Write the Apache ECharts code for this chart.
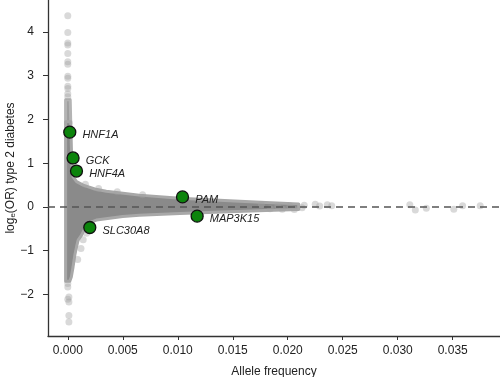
<!DOCTYPE html>
<html>
<head>
<meta charset="utf-8">
<script src="https://cdn.jsdelivr.net/npm/echarts@6/dist/echarts.min.js"></script>
<style>
  html, body { margin: 0; padding: 0; background: #fff; }
  #main { width: 500px; height: 377px; }
</style>
</head>
<body>
<div id="main"></div>
<script>
// tick positions
var xTicks = [0, 0.005, 0.01, 0.015, 0.02, 0.025, 0.03, 0.035]
var yTicks = [-2, -1, 0, 1, 2, 3, 4]

// outline of the dense cloud of variants (allele frequency, log OR)
var bodyUpper = [
  [-0.0002, 1.95], [0.00027, 1.95], [0.00036, 1.0], [0.00048, 0.69], [0.0008, 0.58],
  [0.0014, 0.5], [0.00245, 0.41], [0.0035, 0.36], [0.0065, 0.27], [0.0102, 0.2],
  [0.0147, 0.14], [0.018, 0.1], [0.021, 0.07]
]
var bodyLower = [
  [0.021, -0.06], [0.018, -0.08], [0.0147, -0.11], [0.0102, -0.15], [0.0065, -0.19],
  [0.005, -0.22], [0.0026, -0.3], [0.002, -0.36], [0.00155, -0.5], [0.00124, -0.65],
  [0.00094, -0.76], [0.00079, -0.92], [0.00064, -1.1], [0.00048, -1.37], [0.00032, -1.6],
  [0.00018, -1.7], [-0.0002, -1.7]
]
// thinner top of the column
var columnTop = [
  [-0.0002, 1.9], [-0.0002, 2.45], [0.00022, 2.45], [0.00027, 1.9]
]

// sparse variants drawn as single points
var sparsePoints = [
  [0.0, 4.37], [0.0, 3.99], [0.0, 3.75], [0.0, 3.7], [0.0, 3.51], [0.0, 3.32], [0.0, 3.26],
  [0.0, 2.99], [0.0, 2.94], [0.0, 2.76], [0.0, 2.71], [0.0, 2.59], [0.0, 2.52],
  [0.0, -1.75], [0.0, -1.83], [0.0001, -2.06], [0.0, -2.11], [0.0001, -2.17],
  [0.0001, -2.48], [0.0001, -2.63],
  [0.0016, 0.52], [0.0045, 0.35], [0.0068, 0.28], [0.0028, 0.42],
  [0.0014, -0.75], [0.0012, -0.95], [0.0009, -1.2], [0.0017, -0.6],
  [0.0176, 0.05], [0.0184, -0.04], [0.0191, 0.03], [0.0195, -0.05], [0.0202, 0.02],
  [0.0206, -0.06], [0.0213, -0.02], [0.0215, 0.04], [0.0225, 0.06], [0.0229, 0.02],
  [0.0236, 0.05], [0.024, 0.03],
  [0.0311, 0.05], [0.0316, -0.07], [0.0326, -0.03], [0.0351, -0.05], [0.0359, 0.03], [0.0375, 0.03]
]

// named genes
var geneNames = ['HNF1A', 'GCK', 'HNF4A', 'PAM', 'MAP3K15', 'SLC30A8']
var geneFreq = [0.00018, 0.00048, 0.00079, 0.01043, 0.01176, 0.002]
var geneLogOR = [1.71, 1.12, 0.82, 0.23, -0.21, -0.47]

var font = '"Liberation Sans", Arial, Helvetica, sans-serif'

function polygonSeries(points, fill, stroke) {
  return {
    type: 'custom',
    silent: true,
    data: [0],
    z: 1,
    renderItem: function (params, api) {
      var pts = points.map(function (p) { return api.coord(p) })
      return {
        type: 'polygon',
        shape: { points: pts },
        style: { fill: fill, stroke: stroke, lineWidth: 3, lineJoin: 'round' }
      }
    }
  }
}

var myChart = echarts.init(document.getElementById('main'))

var option = {
  animation: false,
  grid: { left: 48, right: 0, top: 0, bottom: 41, outerBoundsMode: 'none' },
  xAxis: {
    type: 'value',
    min: -0.0018,
    max: 0.0393,
    name: 'Allele frequency',
    nameLocation: 'middle',
    nameGap: 30,
    nameMoveOverlap: false,
    nameTextStyle: { fontFamily: font, fontSize: 12, color: '#222' },
    splitLine: { show: false },
    axisLine: { onZero: false, lineStyle: { color: '#333', width: 1.3 } },
    axisTick: { customValues: xTicks, length: 4, lineStyle: { color: '#333' } },
    axisLabel: {
      customValues: xTicks,
      margin: 9,
      fontFamily: font,
      fontSize: 12,
      color: '#222',
      formatter: function (v) { return v.toFixed(3) }
    }
  },
  yAxis: {
    type: 'value',
    min: -2.95,
    max: 4.73,
    name: '{a|log}{s|e}{a|(OR) type 2 diabetes}',
    nameLocation: 'middle',
    nameGap: 31,
    nameMoveOverlap: false,
    nameTextStyle: {
      fontFamily: font,
      color: '#222',
      rich: {
        a: { fontFamily: font, fontSize: 12, color: '#222', lineHeight: 16, verticalAlign: 'bottom' },
        s: { fontFamily: font, fontSize: 8, color: '#222', lineHeight: 9, verticalAlign: 'bottom' }
      }
    },
    splitLine: { show: false },
    axisLine: { show: true, onZero: false, lineStyle: { color: '#333', width: 1.3 } },
    axisTick: { show: true, customValues: yTicks, length: 5, lineStyle: { color: '#333' } },
    axisLabel: {
      customValues: yTicks,
      margin: 14,
      fontFamily: font,
      fontSize: 12,
      color: '#222',
      formatter: function (v) { return String(v).replace('-', '\u2212') }
    }
  },
  series: [
    polygonSeries(columnTop, '#9e9e9e', '#b4b4b4'),
    polygonSeries(bodyUpper.concat(bodyLower), '#8a8a8a', '#a8a8a8'),
    {
      type: 'scatter',
      silent: true,
      z: 2,
      data: sparsePoints,
      symbolSize: 7,
      itemStyle: { color: 'rgba(160,160,160,0.4)', opacity: 1 },
      markLine: {
        silent: true,
        symbol: 'none',
        label: { show: false },
        lineStyle: { color: '#555', width: 1.5, type: [7, 5] },
        data: [{ yAxis: 0 }]
      }
    },
    {
      type: 'scatter',
      z: 5,
      data: geneNames.map(function (n, i) { return { name: n, value: [geneFreq[i], geneLogOR[i]] } }),
      symbolSize: 12,
      itemStyle: { color: '#0c840c', borderColor: '#111', borderWidth: 1.3, opacity: 1 },
      label: {
        show: true,
        position: 'right',
        distance: 6,
        offset: [0, 3],
        formatter: '{b}',
        fontFamily: font,
        fontStyle: 'italic',
        fontSize: 11,
        color: '#222'
      }
    }
  ]
}

myChart.setOption(option)
</script>
</body>
</html>
